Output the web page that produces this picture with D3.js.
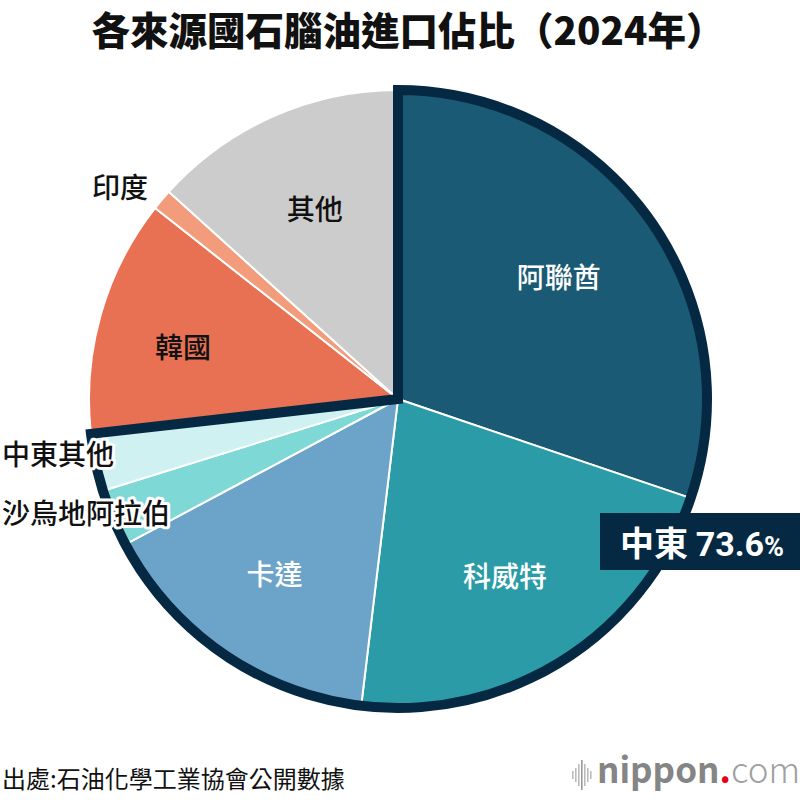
<!DOCTYPE html>
<html>
<head>
<meta charset="utf-8">
<script src="https://cdn.jsdelivr.net/npm/d3@7"></script>
<style>
  body { margin: 0; background: #fff; }
  text { font-family: "Noto Sans CJK TC", "Noto Sans", sans-serif; }
</style>
</head>
<body>
<svg id="chart" width="800" height="800"></svg>
<script>
"use strict";

// shares of naphtha imports by source, % (2024)
const names = ["阿聯酋", "科威特", "卡達", "沙烏地阿拉伯", "中東其他", "韓國", "印度", "其他"];
const shares = [30.2, 21.7, 15.3, 3.0, 3.0, 12.4, 1.1, 13.3];
const middleEast = ["阿聯酋", "科威特", "卡達", "沙烏地阿拉伯", "中東其他"];
const middleEastLabel = "中東";
const middleEastShare = "73.6";

const colors = ["#1b5a74", "#2b9ca7", "#6ca4c9", "#7ed9d6", "#d0f1f1", "#e87153", "#f29c7b", "#cccccc"];
const whiteLabels = ["阿聯酋", "科威特", "卡達"];
const navy = "#062943";

const svg = d3.select("#chart");
const cx = 398, cy = 399, R = 309;

// title
svg.append("text").attr("x", 408).attr("y", 45).attr("text-anchor", "middle")
  .attr("font-size", 38.5).attr("font-weight", 900).attr("fill", "#111")
  .text("各來源國石腦油進口佔比（2024年）");

const pie = d3.pie().sort(null).value(d => d.v);
const arcs = pie(names.map((n, i) => ({name: n, v: shares[i], color: colors[i]})));
const arc = d3.arc().innerRadius(0).outerRadius(R);
const labelArc = d3.arc().innerRadius(210).outerRadius(210);

const g = svg.append("g").attr("transform", "translate(" + cx + "," + cy + ")");

g.selectAll("path.slice").data(arcs).enter().append("path")
  .attr("class", "slice")
  .attr("d", arc)
  .attr("fill", d => d.data.color)
  .attr("stroke", "#fff").attr("stroke-width", 2).attr("stroke-linejoin", "round");

// outline round the middle east group
const meArcs = arcs.filter(d => middleEast.includes(d.data.name));
const meStart = d3.min(meArcs, d => d.startAngle);
const meEnd = d3.max(meArcs, d => d.endAngle);
g.append("path")
  .attr("d", arc({startAngle: meStart, endAngle: meEnd}))
  .attr("fill", "none").attr("stroke", navy).attr("stroke-width", 10).attr("stroke-linejoin", "miter");

// slice labels - small slices get put outside, a few inside ones nudged
const outside = {
  "印度": {x: 120 - cx, y: 188 - cy, anchor: "middle"},
  "中東其他": {x: 2 - cx, y: 455 - cy, anchor: "start"},
  "沙烏地阿拉伯": {x: 2 - cx, y: 514 - cy, anchor: "start"}
};
const nudge = {"阿聯酋": [-10, 2], "科威特": [-5, 1], "卡達": [-5, 3], "韓國": [-13, 7], "其他": [2, 3]};

arcs.forEach(function(d) {
  const name = d.data.name;
  let x, y, anchor = "middle";
  if (outside[name]) {
    x = outside[name].x; y = outside[name].y; anchor = outside[name].anchor;
  } else {
    [x, y] = labelArc.centroid(d);
    if (nudge[name]) { x += nudge[name][0]; y += nudge[name][1]; }
  }
  const t = g.append("text").attr("x", x).attr("y", y).attr("dy", "0.35em")
    .attr("text-anchor", anchor).attr("font-size", 28).attr("font-weight", 500)
    .attr("fill", whiteLabels.includes(name) ? "#fff" : "#111")
    .text(name);
  if (outside[name]) {
    t.attr("stroke", "#fff").attr("stroke-width", 6).attr("stroke-linejoin", "round")
      .attr("paint-order", "stroke");
  }
});

// middle east total box
svg.append("rect").attr("x", 600).attr("y", 513).attr("width", 200).attr("height", 57).attr("fill", navy);
const meText = svg.append("text").attr("x", 620).attr("y", 556).attr("fill", "#fff").attr("font-weight", 700);
meText.append("tspan").attr("font-size", 34).text(middleEastLabel + " ");
meText.append("tspan").attr("font-size", 34).attr("font-family", "Roboto, 'Noto Sans', sans-serif").text(middleEastShare);
meText.append("tspan").attr("font-size", 27).attr("font-family", "Roboto, 'Noto Sans', sans-serif").text("%");

// source
svg.append("text").attr("x", 2).attr("y", 788).attr("font-size", 24).attr("fill", "#111")
  .text("出處:石油化學工業協會公開數據");

// nippon.com logo
const logo = svg.append("g");
const bars = [8, 14, 22, 30, 22, 14, 8];
bars.forEach(function(b, i) {
  logo.append("rect").attr("x", 572 + i * 3).attr("y", 775 - b / 2).attr("width", 1.6).attr("height", b)
    .attr("fill", i === 3 ? "#999" : "#bbb");
});
const lt = logo.append("text").attr("x", 597).attr("y", 783).attr("font-family", "Roboto, sans-serif").attr("font-size", 35);
lt.append("tspan").attr("font-weight", 700).attr("fill", "#858585").text("nippon");
lt.append("tspan").attr("font-weight", 700).attr("fill", "#e60012").text(".");
lt.append("tspan").attr("font-weight", 300).attr("fill", "#a0a0a0").text("com");
</script>
</body>
</html>
